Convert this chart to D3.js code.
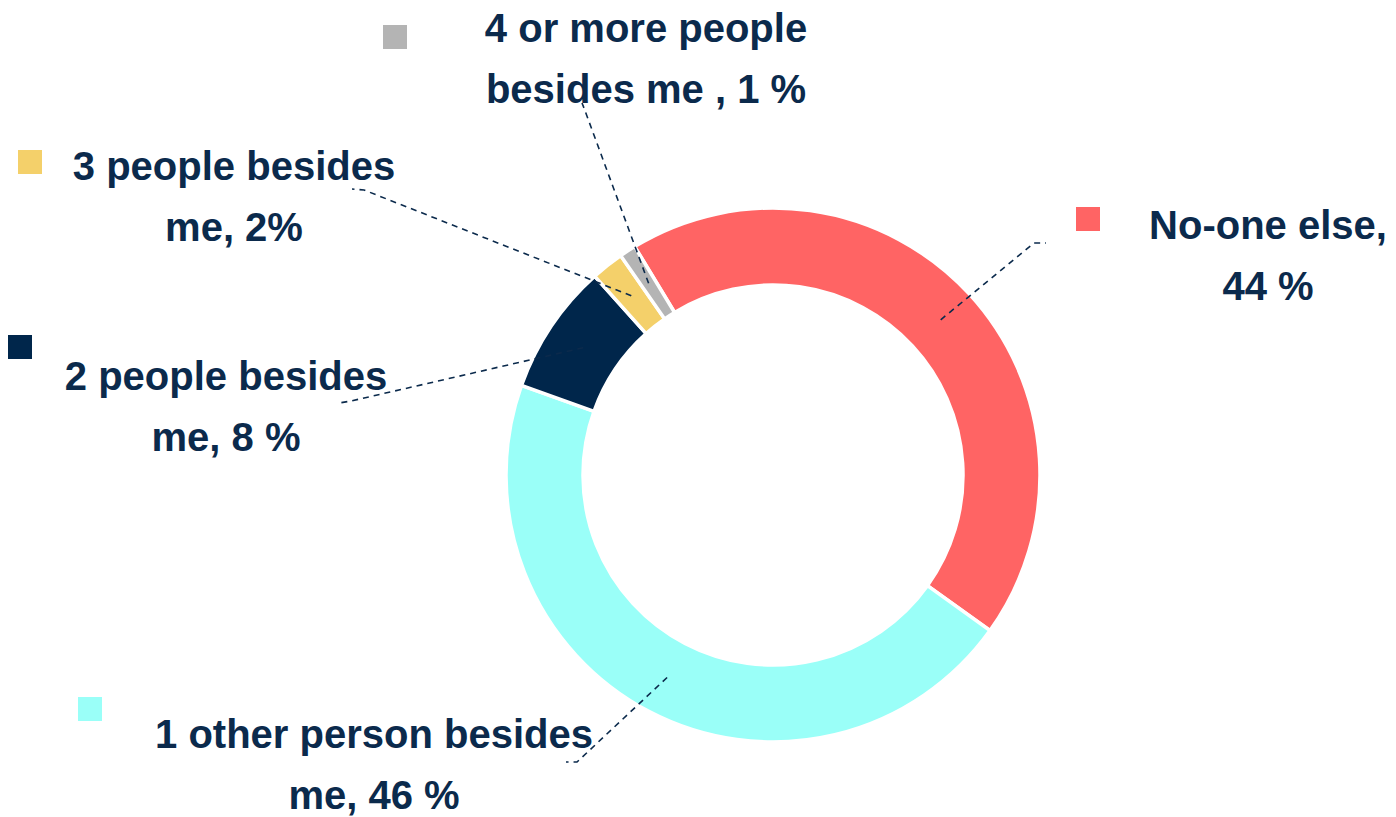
<!DOCTYPE html>
<html>
<head>
<meta charset="utf-8">
<script src="https://cdn.jsdelivr.net/npm/d3@7/dist/d3.min.js"></script>
<style>
  html, body { margin: 0; padding: 0; background: #ffffff; }
  svg { display: block; }
</style>
</head>
<body>
<svg id="chart" width="1396" height="817"></svg>
<script>
// Household composition: who else lives with the respondent
const categories = [
  "No-one else",
  "1 other person besides me",
  "2 people besides me",
  "3 people besides me",
  "4 or more people besides me"
];
const values = [44, 46, 8, 2, 1];
const labelLines = [
  ["No-one else,", "44 %"],
  ["1 other person besides", "me, 46 %"],
  ["2 people besides", "me, 8 %"],
  ["3 people besides", "me, 2%"],
  ["4 or more people", "besides me , 1 %"]
];
const colors = ["#ff6464", "#9afff8", "#00264b", "#f4d06a", "#b4b4b4"];

// Layout for each label: text centre, first baseline, swatch, leader end + elbow
const layout = [
  { tx: 1268, ty: 239, sw: [1076, 207], end: [1046, 243], elbow: [1034, 243] },
  { tx: 374,  ty: 748, sw: [78, 697],   end: [566, 762],  elbow: [577, 762] },
  { tx: 226,  ty: 390, sw: [8, 335],    end: [339, 403],  elbow: [351, 401] },
  { tx: 234,  ty: 180, sw: [18, 150],   end: [352, 189],  elbow: [364, 190] },
  { tx: 646,  ty: 42,  sw: [383, 25],   end: [582, 103],  elbow: [584, 108] }
];

const textColor = "#0b2a4c";
const cx = 773, cy = 475;
const outerR = 267, innerR = 190;
const startDeg = -31.2;

const svg = d3.select("#chart");
const g = svg.append("g").attr("transform", `translate(${cx},${cy})`);

const pie = d3.pie()
  .value(d => d)
  .sort(null)
  .startAngle(startDeg * Math.PI / 180)
  .endAngle(startDeg * Math.PI / 180 + 2 * Math.PI);

const arcs = pie(values);
const arc = d3.arc().innerRadius(innerR).outerRadius(outerR);
const midArc = d3.arc().innerRadius((innerR + outerR) / 2).outerRadius((innerR + outerR) / 2);

g.selectAll("path.slice")
  .data(arcs)
  .enter().append("path")
  .attr("class", "slice")
  .attr("d", arc)
  .attr("fill", (d, i) => colors[i])
  .attr("stroke", "#ffffff")
  .attr("stroke-width", 3.5)
  .attr("stroke-linejoin", "miter");

// Dashed leader lines from slice centroid to the label
const line = d3.line();
svg.selectAll("path.leader")
  .data(arcs)
  .enter().append("path")
  .attr("class", "leader")
  .attr("d", (d, i) => {
    const c = midArc.centroid(d);
    const L = layout[i];
    return line([[cx + c[0], cy + c[1]], L.elbow, L.end]);
  })
  .attr("fill", "none")
  .attr("stroke", textColor)
  .attr("stroke-width", 1.6)
  .attr("stroke-dasharray", "6,5");

// Colour swatches
svg.selectAll("rect.swatch")
  .data(categories)
  .enter().append("rect")
  .attr("class", "swatch")
  .attr("x", (d, i) => layout[i].sw[0])
  .attr("y", (d, i) => layout[i].sw[1])
  .attr("width", 24)
  .attr("height", 24)
  .attr("fill", (d, i) => colors[i]);

// Two-line labels
const labels = svg.selectAll("text.label")
  .data(categories)
  .enter().append("text")
  .attr("class", "label")
  .attr("text-anchor", "middle")
  .attr("font-family", "'Liberation Sans', Arial, sans-serif")
  .attr("font-weight", "bold")
  .attr("font-size", 40)
  .attr("fill", textColor);

labels.each(function (d, i) {
  const t = d3.select(this);
  labelLines[i].forEach((s, k) => {
    t.append("tspan")
      .attr("x", layout[i].tx)
      .attr("y", layout[i].ty + k * 61)
      .text(s);
  });
});
</script>
</body>
</html>
